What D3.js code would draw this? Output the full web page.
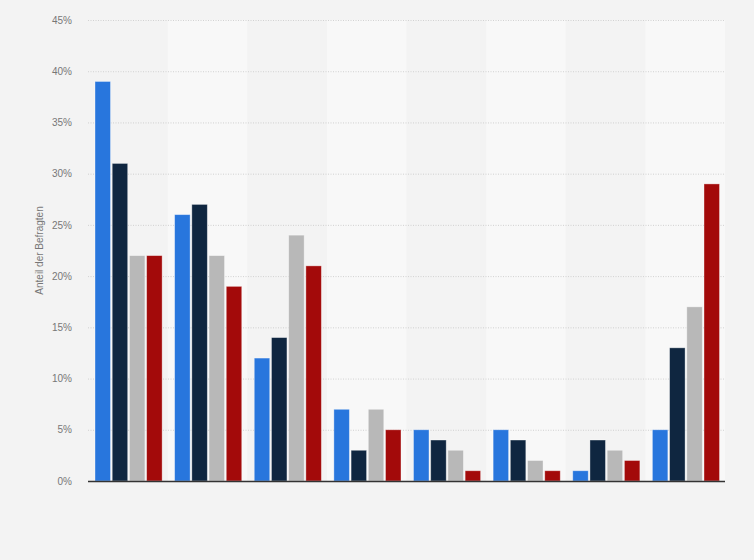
<!DOCTYPE html>
<html>
<head>
<meta charset="utf-8">
<script src="https://cdn.jsdelivr.net/npm/d3@7"></script>
<style>
  body { margin: 0; background: #f3f3f3; }
  svg { display: block; font-family: Arial, "Liberation Sans", sans-serif; }
</style>
</head>
<body>
<svg id="chart"></svg>
<script>
// data (category labels are not shown in the original)
const categories = ["A", "B", "C", "D", "E", "F", "G", "H"];
const seriesNames = ["s1", "s2", "s3", "s4"];
const s1 = [39, 26, 12, 7, 5, 5, 1, 5];
const s2 = [31, 27, 14, 3, 4, 4, 4, 13];
const s3 = [22, 22, 24, 7, 3, 2, 3, 17];
const s4 = [22, 19, 21, 5, 1, 1, 2, 29];
const yTicks = [0, 5, 10, 15, 20, 25, 30, 35, 40, 45];
const colors = ["#2876dd", "#0f2640", "#b8b8b8", "#a30a0a"];

const W = 754, H = 560;
const m = { top: 20, right: 29, bottom: 79, left: 88 };

const svg = d3.select("#chart").attr("width", W).attr("height", H);

const x0 = d3.scaleBand().domain(categories).range([m.left, W - m.right]).padding(0);
const x1 = d3.scaleBand().domain(seriesNames)
    .range([7, x0.bandwidth() - 5.5]).paddingInner(0.1);
const y = d3.scaleLinear().domain([0, 45]).range([H - m.bottom, m.top]);

// alternating background bands
svg.append("g").selectAll("rect")
    .data(categories.filter((c, i) => i % 2 == 1))
    .join("rect")
    .attr("x", d => x0(d))
    .attr("y", y(45))
    .attr("width", x0.bandwidth())
    .attr("height", y(0) - y(45))
    .attr("fill", "#f8f8f8");

// y axis with dotted grid
const yAxis = d3.axisLeft(y)
    .tickValues(yTicks)
    .tickFormat(d => d + "%")
    .tickSize(-(W - m.left - m.right));
const gy = svg.append("g")
    .attr("transform", "translate(" + m.left + ",0)")
    .call(yAxis);
gy.select(".domain").remove();
gy.selectAll(".tick line")
    .attr("stroke", "#c8c8c8")
    .attr("stroke-width", 0.8)
    .attr("stroke-dasharray", "1,1.5");
gy.selectAll(".tick text")
    .attr("x", -16)
    .attr("fill", "#777")
    .attr("font-size", 10);

svg.append("text")
    .attr("transform", "translate(43," + (m.top + (H - m.bottom - m.top) / 2) + ") rotate(-90)")
    .attr("text-anchor", "middle")
    .attr("fill", "#777")
    .attr("font-size", 10)
    .text("Anteil der Befragten");

// bars
const series = [s1, s2, s3, s4];
const rows = [];
categories.forEach((c, i) => {
    seriesNames.forEach((s, j) => {
        rows.push({ cat: c, ser: s, value: series[j][i], color: colors[j] });
    });
});

svg.append("g").selectAll("rect")
    .data(rows)
    .join("rect")
    .attr("x", d => x0(d.cat) + x1(d.ser))
    .attr("y", d => y(d.value))
    .attr("width", x1.bandwidth())
    .attr("height", d => y(0) - y(d.value))
    .attr("fill", d => d.color)
    .attr("stroke", "rgba(255,255,255,0.45)")
    .attr("stroke-width", 0.8);

// x axis baseline
svg.append("line")
    .attr("x1", m.left)
    .attr("x2", W - m.right)
    .attr("y1", y(0) + 0.5)
    .attr("y2", y(0) + 0.5)
    .attr("stroke", "#333")
    .attr("stroke-width", 1.3);
</script>
</body>
</html>
